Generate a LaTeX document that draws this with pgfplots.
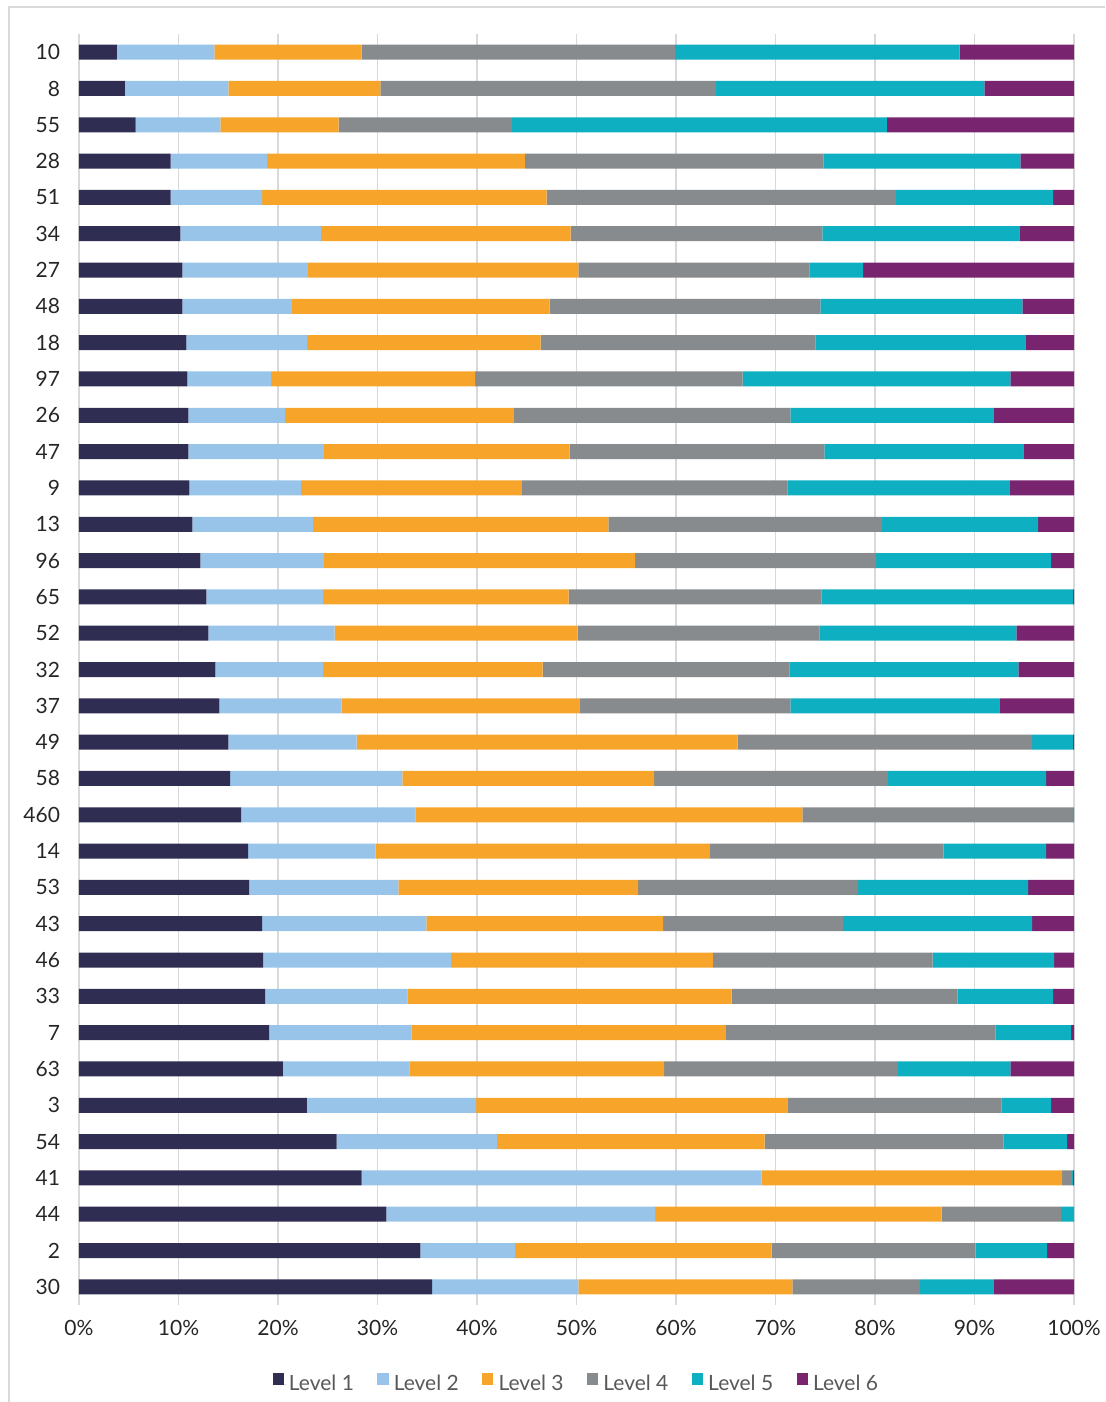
\documentclass[border=0pt]{standalone}
\usepackage{fontspec}
\setmainfont{Lato}
\usepackage{pgfplots}
\usepackage{pgfplotstable}
\pgfplotsset{compat=1.18}
\definecolor{cA}{HTML}{302D52}
\definecolor{cB}{HTML}{97C4E8}
\definecolor{cC}{HTML}{F7A42B}
\definecolor{cD}{HTML}{878B8D}
\definecolor{cE}{HTML}{0EAFC1}
\definecolor{cF}{HTML}{78246F}
\definecolor{gridc}{HTML}{D9D9D9}
\definecolor{tickc}{HTML}{262626}
\definecolor{legc}{HTML}{595959}
\pgfplotstableread{
idx lab a b c d e f
0 10 3.8 9.8 14.8 31.5 28.6 11.5
1 8 4.6 10.4 15.3 33.7 27.0 9.0
2 55 5.7 8.5 11.9 17.4 37.7 18.8
3 28 9.2 9.7 25.9 30.0 19.8 5.4
4 51 9.2 9.2 28.6 35.1 15.8 2.1
5 34 10.2 14.1 25.1 25.3 19.8 5.5
6 27 10.4 12.6 27.2 23.2 5.4 21.2
7 48 10.4 11.0 25.9 27.2 20.3 5.2
8 18 10.8 12.1 23.5 27.6 21.1 4.9
9 97 10.9 8.4 20.5 26.9 26.9 6.4
10 26 11.0 9.7 23.0 27.8 20.4 8.1
11 47 11.0 13.6 24.7 25.6 20.0 5.1
12 9 11.1 11.2 22.2 26.7 22.3 6.5
13 13 11.4 12.1 29.7 27.5 15.7 3.6
14 96 12.2 12.4 31.3 24.2 17.6 2.3
15 65 12.8 11.7 24.7 25.4 25.3 0.1
16 52 13.0 12.7 24.4 24.3 19.8 5.8
17 32 13.7 10.8 22.1 24.8 23.0 5.6
18 37 14.1 12.3 23.9 21.2 21.0 7.5
19 49 15.0 12.9 38.3 29.6 4.1 0.1
20 58 15.2 17.3 25.3 23.5 15.9 2.8
21 460 16.3 17.5 38.9 27.2 0.1 0.0
22 14 17.0 12.8 33.6 23.5 10.3 2.8
23 53 17.1 15.0 24.1 22.1 17.1 4.6
24 43 18.4 16.5 23.8 18.1 19.0 4.2
25 46 18.5 18.9 26.3 22.1 12.2 2.0
26 33 18.7 14.3 32.6 22.7 9.6 2.1
27 7 19.1 14.3 31.6 27.1 7.6 0.3
28 63 20.5 12.7 25.6 23.5 11.3 6.4
29 3 22.9 17.0 31.3 21.5 5.0 2.3
30 54 25.9 16.1 26.9 24.0 6.4 0.7
31 41 28.4 40.2 30.2 1.0 0.1 0.1
32 44 30.9 27.0 28.8 12.0 1.3 0.0
33 2 34.3 9.5 25.8 20.5 7.2 2.7
34 30 35.5 14.7 21.5 12.8 7.4 8.1
}\data
\begin{document}
\begin{tikzpicture}
\path[use as bounding box] (-39.5pt,-48.5pt) rectangle (513pt,652.5pt);
\draw[gridc, line width=0.8pt] (-35pt,-49pt) -- (-35pt,649pt) -- (513pt,649pt);
\begin{axis}[
  at={(0,0)}, anchor=south west,
  scale only axis,
  width=497.5pt, height=635.5pt,
  xbar stacked,
  bar width=7.5pt,
  y dir=reverse,
  xmin=0, xmax=100,
  ymin=-0.5, ymax=34.5,
  axis line style={draw=none},
  major tick length=0pt,
  xmajorgrids,
  grid style={gridc, line width=0.6pt},
  xtick={0,10,...,100},
  xticklabels={0\%,10\%,20\%,30\%,40\%,50\%,60\%,70\%,80\%,90\%,100\%},
  ytick={0,...,34},
  yticklabels from table={\data}{lab},
  ticklabel style={font=\fontsize{10.5pt}{12pt}\selectfont, text=tickc},
  xticklabel style={yshift=-4pt},
  yticklabel style={xshift=-6pt},
  legend columns=6,
  legend style={draw=none, at={(0.5,0)}, anchor=center, yshift=-39.5pt,
    font=\fontsize{10.5pt}{12pt}\selectfont, text=legc,
    /tikz/every even column/.append style={column sep=10.5pt},
    nodes={inner sep=1.2pt}},
  legend image code/.code={\fill[#1] (0pt,-0.6pt) rectangle (5.6pt,5.6pt); \path (0pt,0pt) -- (7pt,0pt);},
  every axis plot/.append style={draw=none},
]
\addplot[fill=cA] table[x=a, y=idx] {\data};
\addplot[fill=cB] table[x=b, y=idx] {\data};
\addplot[fill=cC] table[x=c, y=idx] {\data};
\addplot[fill=cD] table[x=d, y=idx] {\data};
\addplot[fill=cE] table[x=e, y=idx] {\data};
\addplot[fill=cF] table[x=f, y=idx] {\data};
\legend{Level 1,Level 2,Level 3,Level 4,Level 5,Level 6}
\end{axis}
\end{tikzpicture}
\end{document}
